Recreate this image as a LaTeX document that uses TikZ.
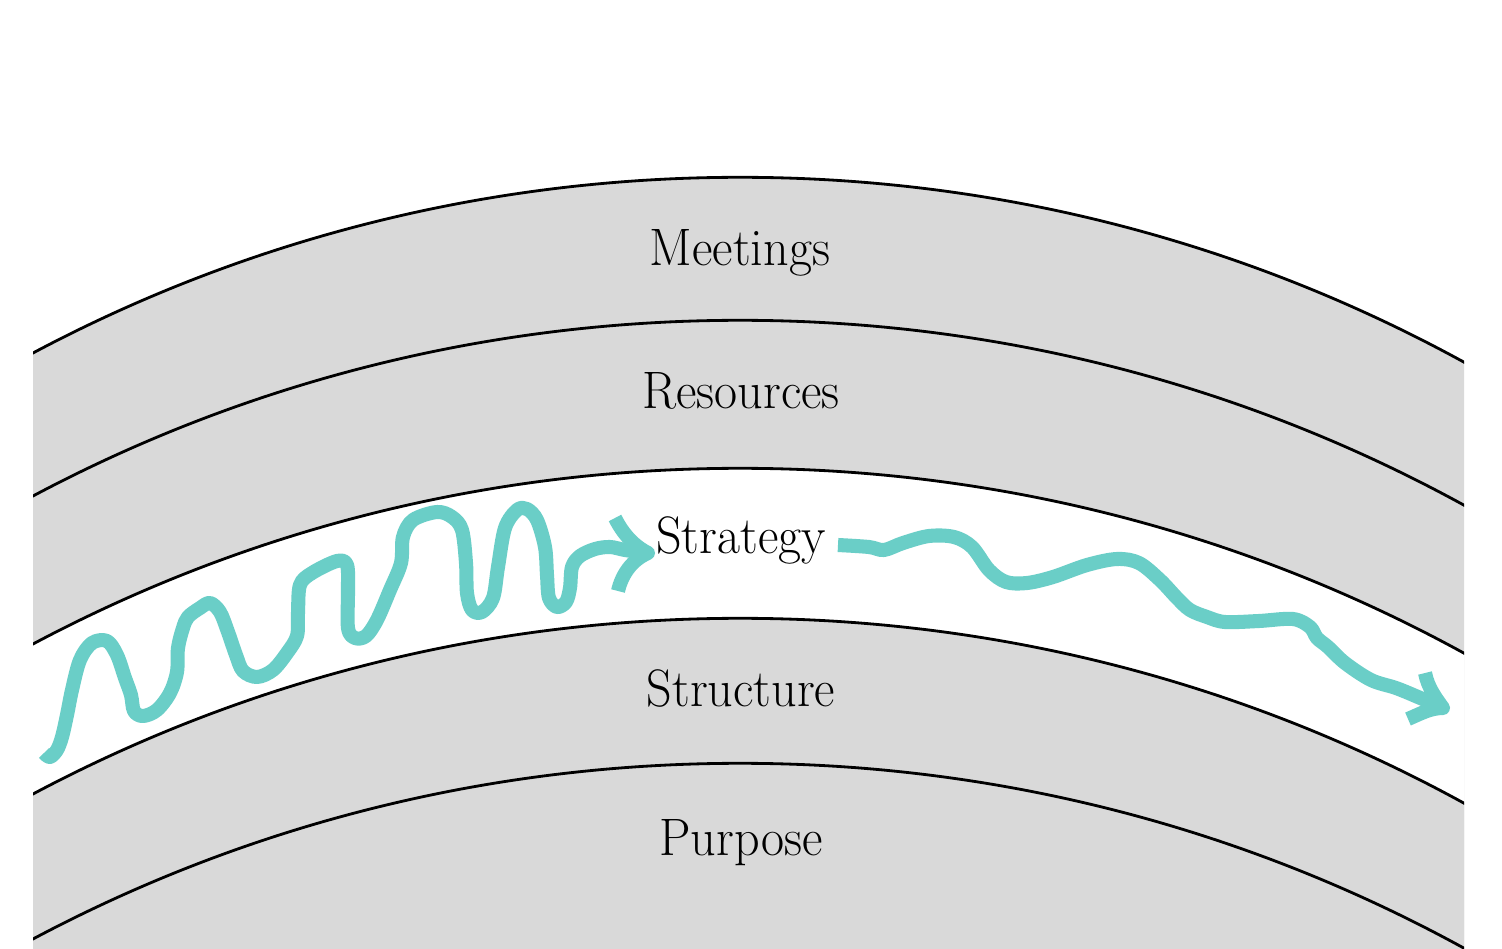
\documentclass[tikz,border=0pt]{standalone}
\usepackage{graphicx}
\definecolor{bandgray}{HTML}{D9D9D9}
\definecolor{squig}{HTML}{6ACEC7}
\newcommand\sqz[1]{\scalebox{0.95}[1]{#1}}
\begin{document}
\begin{tikzpicture}[x=0.02cm,y=-0.02cm,
  arcline/.style={draw=black,line width=1.6pt},
  lbl/.style={anchor=base,inner sep=0pt,font=\fontsize{30}{34}\selectfont},
  squiggle/.style={draw=squig,line width=8pt,line cap=butt,line join=round}]
\useasboundingbox (0,0) rectangle (1502,949);
\fill[white] (0,0) rectangle (1502,949);
\begin{scope}
  \clip (33,0) rectangle (1464,949);
  \fill[bandgray] (740,1685) circle[radius=30.16cm];
  \fill[white] (740,1976) circle[radius=30.16cm];
  \fill[bandgray] (740,2126) circle[radius=30.16cm];
  \foreach \a in {177,320,468,618,763}
    \draw[arcline] (740,\a+1508) circle[radius=30.16cm];
\end{scope}
\node[lbl] (meet) at (740,266) {\sqz{Meetings}};
\node[lbl] (res) at (741,409) {\sqz{Resources}};
\node[lbl] (strat) at (741,554) {\sqz{Strategy}};
\node[lbl] (struct) at (741,706) {\sqz{Structure}};
\node[lbl] (purp) at (741,855) {\sqz{Purpose}};
% left squiggle
\draw[squiggle] plot[smooth,tension=0.55] coordinates {
 (44,753) (50,757) (57,750) (62,737) (67,715) (72,690) (80,660) (92,643) (107,641)
 (117,655) (125,678) (131,695) (134,711) (143,716) (157,710) (170,693) (177,672)
 (178,648) (183,628) (188,617) (200,608) (210,603) (220,612) (228,632) (236,655)
 (243,671) (257,677) (273,670) (287,653) (297,636) (298,613) (300,585) (312,573)
 (337,561) (347,565) (348,590) (348,628) (355,638) (366,636) (377,620) (390,590)
 (401,563) (403,537) (413,520) (437,512) (452,517) (462,530) (466,563) (467,593)
 (472,610) (482,612) (493,598) (498,567) (505,528) (517,510) (527,509) (537,520)
 (545,547) (547,575) (549,598) (557,607) (566,602) (570,588) (572,567) (580,556)
 (595,549) (610,547) (625,550) (646,553)};
\draw[squiggle] (615,518) .. controls (625,538) and (638,548) .. (648,553)
  .. controls (632,560) and (622,574) .. (618,591);
% right squiggle
\draw[squiggle] plot[smooth,tension=0.55] coordinates {
 (838,545) (869,547) (884,550) (903,543) (929,536) (954,537) (972,547) (989,570)
 (1006,582) (1027,583) (1053,577) (1087,565) (1117,559) (1139,563) (1160,580)
 (1177,598) (1190,610) (1207,617) (1225,622) (1259,621) (1293,619) (1310,627)
 (1317,638) (1328,647) (1345,663) (1371,680) (1396,688) (1418,697) (1441,707)};
\draw[squiggle] (1425,673) .. controls (1428,688) and (1436,698) .. (1443,708)
  .. controls (1430,708) and (1420,714) .. (1408,719);
\end{tikzpicture}
\end{document}
